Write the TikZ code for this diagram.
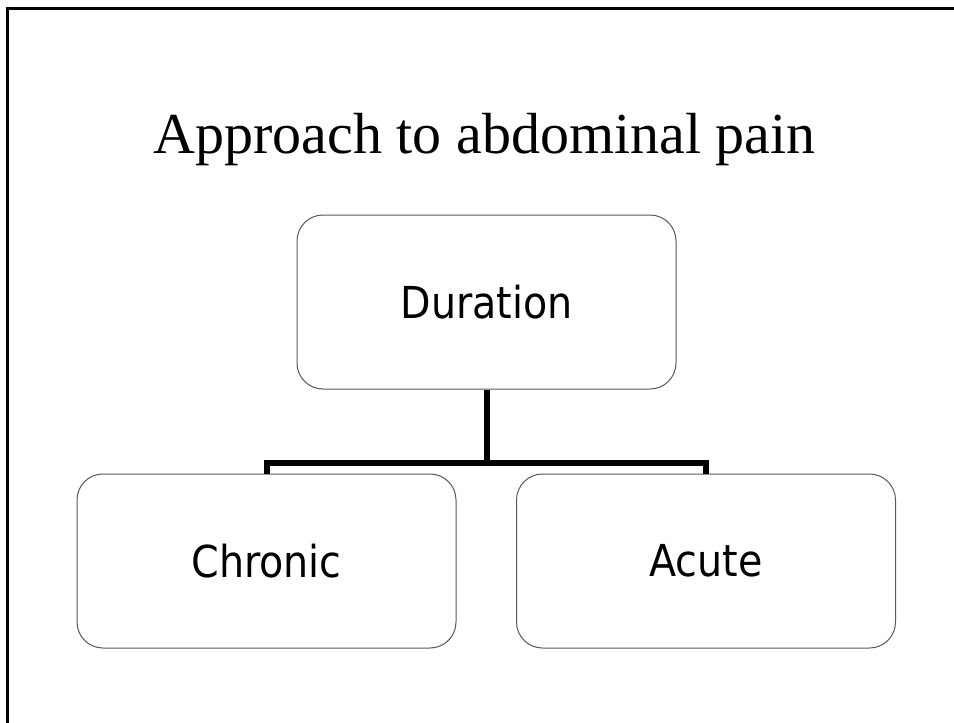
\documentclass[tikz,border=0pt]{standalone}
\usepackage{fontspec}
\setmainfont{Liberation Serif}
\newfontfamily\boxfont{DejaVu Sans Condensed}
\begin{document}
\begin{tikzpicture}[x=1pt,y=-1pt,
  boxnode/.style={draw=black!65, line width=1pt, rounded corners=26pt,
    minimum width=379pt, minimum height=174pt, inner sep=0pt,
    font=\boxfont\fontsize{44}{50}\selectfont},
  conn/.style={draw=black, line width=6pt, line cap=butt, line join=miter},
  frameline/.style={draw=black, line width=3pt}]
\useasboundingbox (0,0) rectangle (954,723);
\fill[white] (0,0) rectangle (954,723);
\draw[frameline] (7,740) -- (7,8) -- (970,8);
\node[anchor=base, font=\fontsize{58}{64}\selectfont, inner sep=0pt] (title) at (484.5,153) {Approach to abdominal pain};
\node[boxnode] (dur) at (486.5,302) {Duration};
\node[boxnode] (chr) at (266.5,561) {Chronic};
\node[boxnode] (acu) at (706,561) {Acute};
\coordinate (j) at (486.5,462.5);
\draw[conn] (dur.south) -- (j);
\draw[conn] (chr.north) |- (j) -| (acu.north);
\end{tikzpicture}
\end{document}
